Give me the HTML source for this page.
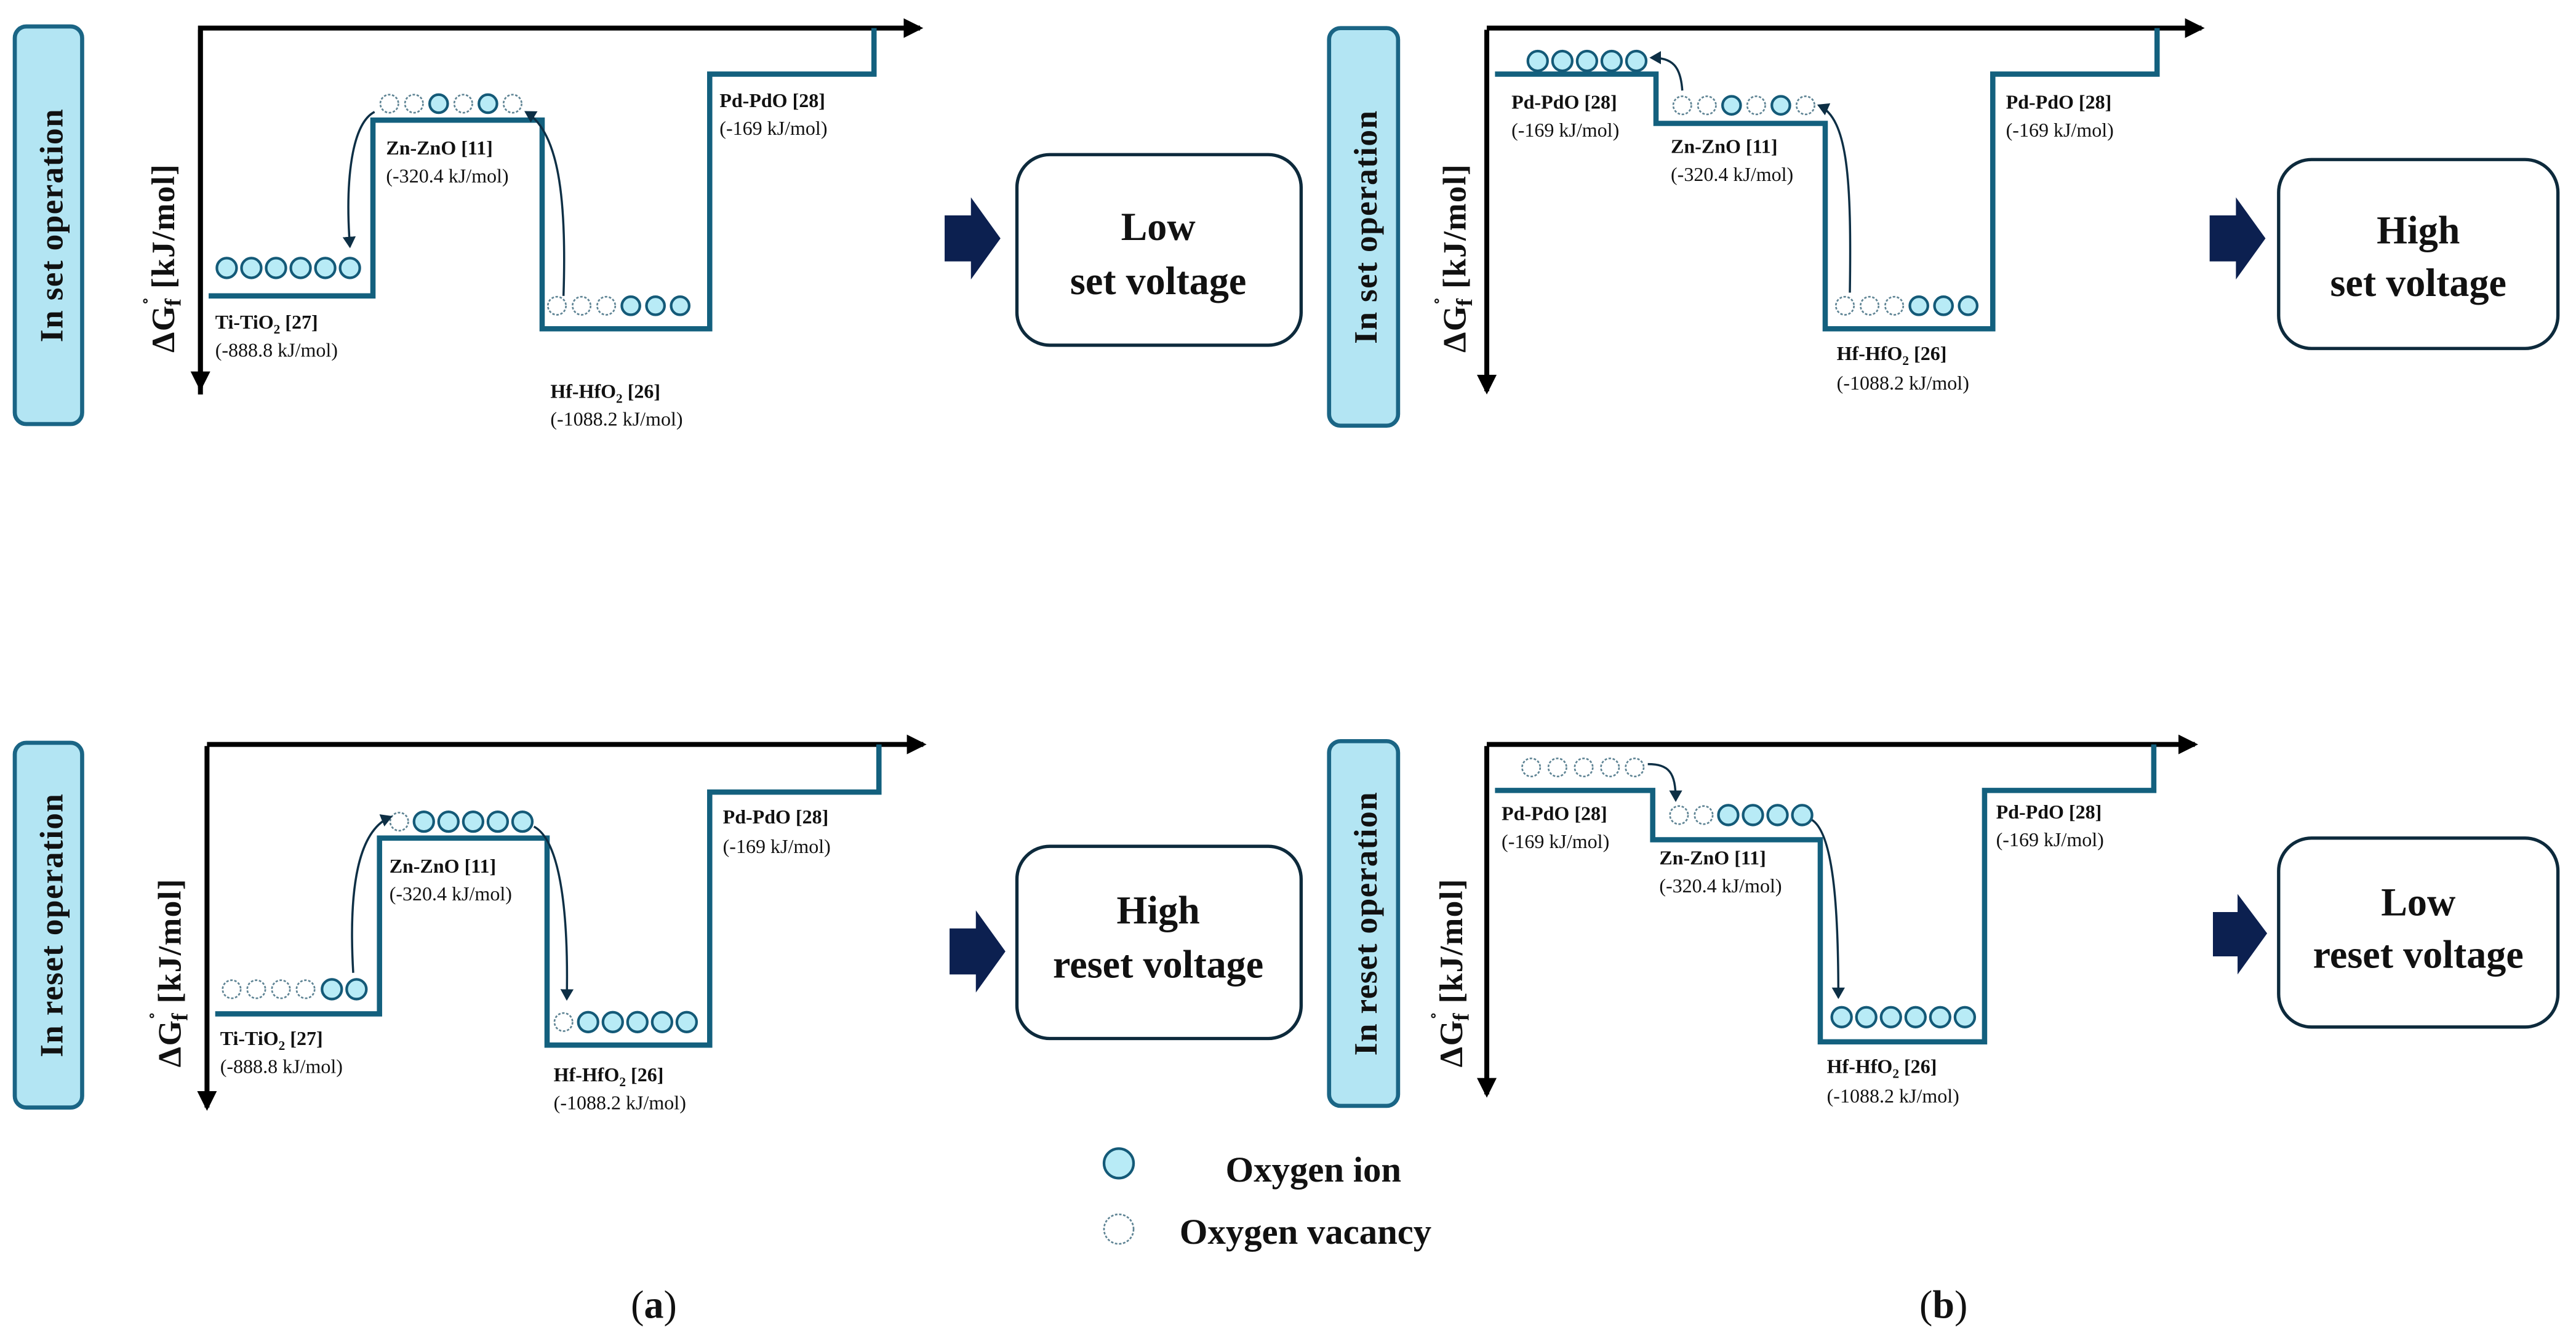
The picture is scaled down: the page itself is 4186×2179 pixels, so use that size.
<!DOCTYPE html>
<html><head><meta charset="utf-8"><style>
html,body{margin:0;padding:0;background:#fff}
svg{display:block}
text{font-family:"Liberation Serif",serif;fill:#111}
.b{font-weight:bold;font-size:12px}
.n{font-size:12px}
.step{fill:none;stroke:#13607e;stroke-width:3.2}
.ax{stroke:#000;stroke-width:3;fill:none}
.ion{fill:#b8ebf6;stroke:#145a78;stroke-width:1.6}
.vac{fill:#fff;stroke:#5f8494;stroke-width:1;stroke-dasharray:1.5 1}
.arr{fill:none;stroke:#0d2f45;stroke-width:1.3}
.lab{fill:#b3e5f3;stroke:#1a6585;stroke-width:2.5}
.box{fill:#fff;stroke:#0d2a3c;stroke-width:2}
.big{font-weight:bold;font-size:24px;text-anchor:middle}
.side{font-weight:bold;font-size:20px;text-anchor:middle;letter-spacing:0.5px}
</style></head><body>
<svg width="4186" height="2179" viewBox="0 0 1568 816" xmlns="http://www.w3.org/2000/svg">
<defs>
<marker id="ah" markerWidth="8" markerHeight="8" refX="6" refY="4" orient="auto" markerUnits="userSpaceOnUse"><path d="M0,0 L7,4 L0,8 z" fill="#0d2f45"/></marker>
<marker id="axh" markerWidth="14" markerHeight="14" refX="10" refY="7" orient="auto" markerUnits="userSpaceOnUse"><path d="M0,1 L12,7 L0,13 z" fill="#000"/></marker>
</defs>

<!-- ===== Top-left ===== -->
<rect class="lab" x="9" y="16" width="41" height="242" rx="7"/>
<text class="side" transform="translate(38,137) rotate(-90)">In set operation</text>
<text class="side" transform="translate(106,157) rotate(-90)">ΔG<tspan font-size="14" dy="-9">˚</tspan><tspan font-size="14" dy="13" dx="-6">f</tspan><tspan dy="-4"> [kJ/mol]</tspan></text>
<path class="ax" d="M122,240 L122,17 L560,17" marker-end="url(#axh)"/>
<path class="ax" d="M122,18 L122,236" marker-end="url(#axh)"/>
<path class="step" d="M127,180 H227 V73 H330 V200 H432 V45 H532 V17"/>
<g id="tl">
<circle class="ion" cx="138" cy="163" r="6"/><circle class="ion" cx="153" cy="163" r="6"/><circle class="ion" cx="168" cy="163" r="6"/><circle class="ion" cx="183" cy="163" r="6"/><circle class="ion" cx="198" cy="163" r="6"/><circle class="ion" cx="213" cy="163" r="6"/>
<circle class="vac" cx="237" cy="63" r="5.5"/><circle class="vac" cx="252" cy="63" r="5.5"/><circle class="ion" cx="267" cy="63" r="5.5"/><circle class="vac" cx="282" cy="63" r="5.5"/><circle class="ion" cx="297" cy="63" r="5.5"/><circle class="vac" cx="312" cy="63" r="5.5"/>
<circle class="vac" cx="339" cy="186" r="5.5"/><circle class="vac" cx="354" cy="186" r="5.5"/><circle class="vac" cx="369" cy="186" r="5.5"/><circle class="ion" cx="384" cy="186" r="5.5"/><circle class="ion" cx="399" cy="186" r="5.5"/><circle class="ion" cx="414" cy="186" r="5.5"/>
</g>
<path class="arr" d="M228,68 C214,75 210,110 213,150" marker-end="url(#ah)"/>
<path class="arr" d="M343,180 C345,120 340,80 320,68" marker-end="url(#ah)"/>
<text class="b" x="131" y="200">Ti-TiO<tspan font-size="8" dy="3">2</tspan><tspan dy="-3"> [27]</tspan></text>
<text class="n" x="131" y="217">(-888.8 kJ/mol)</text>
<text class="b" x="235" y="94">Zn-ZnO [11]</text>
<text class="n" x="235" y="111">(-320.4 kJ/mol)</text>
<text class="b" x="438" y="65">Pd-PdO [28]</text>
<text class="n" x="438" y="82">(-169 kJ/mol)</text>
<text class="b" x="335" y="242">Hf-HfO<tspan font-size="8" dy="3">2</tspan><tspan dy="-3"> [26]</tspan></text>
<text class="n" x="335" y="259">(-1088.2 kJ/mol)</text>
<path d="M575,131 H591 V120 L609,145 L591,170 V159 H575 z" fill="#0c2050"/>
<rect class="box" x="619" y="94" width="173" height="116" rx="20"/>
<text class="big" x="705" y="146">Low</text>
<text class="big" x="705" y="179">set voltage</text>

<!-- ===== Top-right ===== -->
<rect class="lab" x="809" y="17" width="42" height="242" rx="7"/>
<text class="side" transform="translate(838,138) rotate(-90)">In set operation</text>
<text class="side" transform="translate(892,157) rotate(-90)">ΔG<tspan font-size="14" dy="-9">˚</tspan><tspan font-size="14" dy="13" dx="-6">f</tspan><tspan dy="-4"> [kJ/mol]</tspan></text>
<path class="ax" d="M905,17 L1340,17" marker-end="url(#axh)"/>
<path class="ax" d="M905,18 L905,238" marker-end="url(#axh)"/>
<path class="step" d="M910,45 H1008 V75 H1111 V200 H1213 V45 H1313 V17"/>
<circle class="ion" cx="936" cy="37" r="6"/><circle class="ion" cx="951" cy="37" r="6"/><circle class="ion" cx="966" cy="37" r="6"/><circle class="ion" cx="981" cy="37" r="6"/><circle class="ion" cx="996" cy="37" r="6"/>
<circle class="vac" cx="1024" cy="64" r="5.5"/><circle class="vac" cx="1039" cy="64" r="5.5"/><circle class="ion" cx="1054" cy="64" r="5.5"/><circle class="vac" cx="1069" cy="64" r="5.5"/><circle class="ion" cx="1084" cy="64" r="5.5"/><circle class="vac" cx="1099" cy="64" r="5.5"/>
<circle class="vac" cx="1123" cy="186" r="5.5"/><circle class="vac" cx="1138" cy="186" r="5.5"/><circle class="vac" cx="1153" cy="186" r="5.5"/><circle class="ion" cx="1168" cy="186" r="5.5"/><circle class="ion" cx="1183" cy="186" r="5.5"/><circle class="ion" cx="1198" cy="186" r="5.5"/>
<path class="arr" d="M1024,55 C1023,40 1018,35 1005,35" marker-end="url(#ah)"/>
<path class="arr" d="M1126,178 C1127,110 1125,72 1107,64" marker-end="url(#ah)"/>
<text class="b" x="920" y="66">Pd-PdO [28]</text>
<text class="n" x="920" y="83">(-169 kJ/mol)</text>
<text class="b" x="1017" y="93">Zn-ZnO [11]</text>
<text class="n" x="1017" y="110">(-320.4 kJ/mol)</text>
<text class="b" x="1221" y="66">Pd-PdO [28]</text>
<text class="n" x="1221" y="83">(-169 kJ/mol)</text>
<text class="b" x="1118" y="219">Hf-HfO<tspan font-size="8" dy="3">2</tspan><tspan dy="-3"> [26]</tspan></text>
<text class="n" x="1118" y="237">(-1088.2 kJ/mol)</text>
<path d="M1345,131 H1361 V120 L1379,145 L1361,170 V159 H1345 z" fill="#0c2050"/>
<rect class="box" x="1387" y="97" width="170" height="115" rx="20"/>
<text class="big" x="1472" y="148">High</text>
<text class="big" x="1472" y="180">set voltage</text>

<!-- ===== Bottom-left ===== -->
<rect class="lab" x="9" y="452" width="41" height="222" rx="7"/>
<text class="side" transform="translate(38,563) rotate(-90)">In reset operation</text>
<text class="side" transform="translate(110,592) rotate(-90)">ΔG<tspan font-size="14" dy="-9">˚</tspan><tspan font-size="14" dy="13" dx="-6">f</tspan><tspan dy="-4"> [kJ/mol]</tspan></text>
<path class="ax" d="M126,453 L562,453" marker-end="url(#axh)"/>
<path class="ax" d="M126,454 L126,674" marker-end="url(#axh)"/>
<path class="step" d="M131,617 H231 V510 H333 V636 H432 V482 H535 V453"/>
<circle class="vac" cx="141" cy="602" r="5.5"/><circle class="vac" cx="156" cy="602" r="5.5"/><circle class="vac" cx="171" cy="602" r="5.5"/><circle class="vac" cx="186" cy="602" r="5.5"/><circle class="ion" cx="202" cy="602" r="6"/><circle class="ion" cx="217" cy="602" r="6"/>
<circle class="vac" cx="243" cy="500" r="5.5"/><circle class="ion" cx="258" cy="500" r="6"/><circle class="ion" cx="273" cy="500" r="6"/><circle class="ion" cx="288" cy="500" r="6"/><circle class="ion" cx="303" cy="500" r="6"/><circle class="ion" cx="318" cy="500" r="6"/>
<circle class="vac" cx="343" cy="622" r="5.5"/><circle class="ion" cx="358" cy="622" r="6"/><circle class="ion" cx="373" cy="622" r="6"/><circle class="ion" cx="388" cy="622" r="6"/><circle class="ion" cx="403" cy="622" r="6"/><circle class="ion" cx="418" cy="622" r="6"/>
<path class="arr" d="M215,592 C212,540 218,505 238,497" marker-end="url(#ah)"/>
<path class="arr" d="M325,503 C342,512 346,560 345,608" marker-end="url(#ah)"/>
<text class="b" x="134" y="636">Ti-TiO<tspan font-size="8" dy="3">2</tspan><tspan dy="-3"> [27]</tspan></text>
<text class="n" x="134" y="653">(-888.8 kJ/mol)</text>
<text class="b" x="237" y="531">Zn-ZnO [11]</text>
<text class="n" x="237" y="548">(-320.4 kJ/mol)</text>
<text class="b" x="440" y="501">Pd-PdO [28]</text>
<text class="n" x="440" y="519">(-169 kJ/mol)</text>
<text class="b" x="337" y="658">Hf-HfO<tspan font-size="8" dy="3">2</tspan><tspan dy="-3"> [26]</tspan></text>
<text class="n" x="337" y="675">(-1088.2 kJ/mol)</text>
<path d="M578,565 H594 V554 L612,579 L594,604 V593 H578 z" fill="#0c2050"/>
<rect class="box" x="619" y="515" width="173" height="117" rx="20"/>
<text class="big" x="705" y="562">High</text>
<text class="big" x="705" y="595">reset voltage</text>

<!-- ===== Bottom-right ===== -->
<rect class="lab" x="809" y="451" width="42" height="222" rx="7"/>
<text class="side" transform="translate(838,562) rotate(-90)">In reset operation</text>
<text class="side" transform="translate(890,592) rotate(-90)">ΔG<tspan font-size="14" dy="-9">˚</tspan><tspan font-size="14" dy="13" dx="-6">f</tspan><tspan dy="-4"> [kJ/mol]</tspan></text>
<path class="ax" d="M905,453 L1336,453" marker-end="url(#axh)"/>
<path class="ax" d="M905,454 L905,666" marker-end="url(#axh)"/>
<path class="step" d="M910,481 H1006 V511 H1108 V634 H1208 V481 H1311 V453"/>
<circle class="vac" cx="932" cy="467" r="5.5"/><circle class="vac" cx="948" cy="467" r="5.5"/><circle class="vac" cx="964" cy="467" r="5.5"/><circle class="vac" cx="980" cy="467" r="5.5"/><circle class="vac" cx="995" cy="467" r="5.5"/>
<circle class="vac" cx="1022" cy="496" r="5.5"/><circle class="vac" cx="1037" cy="496" r="5.5"/><circle class="ion" cx="1052" cy="496" r="6"/><circle class="ion" cx="1067" cy="496" r="6"/><circle class="ion" cx="1082" cy="496" r="6"/><circle class="ion" cx="1097" cy="496" r="6"/>
<circle class="ion" cx="1121" cy="619" r="6"/><circle class="ion" cx="1136" cy="619" r="6"/><circle class="ion" cx="1151" cy="619" r="6"/><circle class="ion" cx="1166" cy="619" r="6"/><circle class="ion" cx="1181" cy="619" r="6"/><circle class="ion" cx="1196" cy="619" r="6"/>
<path class="arr" d="M1003,465 C1016,465 1020,470 1020,487" marker-end="url(#ah)"/>
<path class="arr" d="M1103,499 C1117,508 1119,560 1119,607" marker-end="url(#ah)"/>
<text class="b" x="914" y="499">Pd-PdO [28]</text>
<text class="n" x="914" y="516">(-169 kJ/mol)</text>
<text class="b" x="1010" y="526">Zn-ZnO [11]</text>
<text class="n" x="1010" y="543">(-320.4 kJ/mol)</text>
<text class="b" x="1215" y="498">Pd-PdO [28]</text>
<text class="n" x="1215" y="515">(-169 kJ/mol)</text>
<text class="b" x="1112" y="653">Hf-HfO<tspan font-size="8" dy="3">2</tspan><tspan dy="-3"> [26]</tspan></text>
<text class="n" x="1112" y="671">(-1088.2 kJ/mol)</text>
<path d="M1347,555 H1362 V544 L1380,568 L1362,593 V582 H1347 z" fill="#0c2050"/>
<rect class="box" x="1387" y="510" width="170" height="115" rx="20"/>
<text class="big" x="1472" y="557">Low</text>
<text class="big" x="1472" y="589">reset voltage</text>

<!-- Legend -->
<circle class="ion" cx="681" cy="708" r="9" stroke-width="2"/>
<circle class="vac" cx="681" cy="748" r="9" stroke-width="1.4"/>
<text x="746" y="719" font-size="22" font-weight="bold">Oxygen ion</text>
<text x="718" y="757" font-size="22" font-weight="bold">Oxygen vacancy</text>
<text x="398" y="802" font-size="24" text-anchor="middle">(<tspan font-weight="bold">a</tspan>)</text>
<text x="1183" y="802" font-size="24" text-anchor="middle">(<tspan font-weight="bold">b</tspan>)</text>
</svg>
</body></html>
